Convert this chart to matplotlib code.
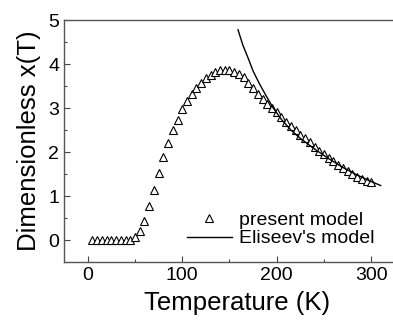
import matplotlib
matplotlib.use('Agg')

import matplotlib.pyplot as plt
from matplotlib.ticker import MultipleLocator

# present model (triangles)
temp_model = [5, 10, 15, 20, 25, 30, 35, 40, 45, 50,
              55, 60, 65, 70, 75, 80, 85, 90, 95, 100,
              105, 110, 115, 120, 125, 130, 135, 140, 145, 150,
              155, 160, 165, 170, 175, 180, 185, 190, 195, 200,
              205, 210, 215, 220, 225, 230, 235, 240, 245, 250,
              255, 260, 265, 270, 275, 280, 285, 290, 295, 300]
x_model = [0.0, 0.0, 0.0, 0.0, 0.0, 0.0, 0.0, 0.0, 0.0, 0.07,
           0.2, 0.43, 0.78, 1.14, 1.53, 1.88, 2.2, 2.5, 2.74, 2.97,
           3.16, 3.32, 3.46, 3.57, 3.69, 3.76, 3.82, 3.86, 3.87, 3.86,
           3.82, 3.77, 3.71, 3.57, 3.46, 3.33, 3.21, 3.1, 3.0, 2.9,
           2.8, 2.69, 2.59, 2.5, 2.4, 2.31, 2.22, 2.12, 2.03, 1.95,
           1.86, 1.79, 1.71, 1.64, 1.56, 1.5, 1.44, 1.39, 1.35, 1.32]

# Eliseev's model (line)
temp_eliseev = [159, 164, 170, 175, 182, 189, 196, 205, 215, 225,
                240, 255, 270, 285, 300, 310]
x_eliseev = [4.78, 4.44, 4.12, 3.84, 3.54, 3.27, 3.01, 2.74, 2.50, 2.31,
             2.07, 1.85, 1.65, 1.48, 1.33, 1.24]


def main():
    plt.rcParams['font.family'] = ['Liberation Sans', 'DejaVu Sans']
    fig = plt.figure(figsize=(3.93, 3.24), dpi=100)
    ax = fig.add_axes([0.163, 0.191, 0.878, 0.747])

    ax.plot(temp_model, x_model, linestyle='none', marker='^', markersize=6,
            markerfacecolor='white', markeredgecolor='black', markeredgewidth=0.8,
            label='present model')
    ax.plot(temp_eliseev, x_eliseev, color='black', linewidth=1.0,
            label="Eliseev's model")

    ax.set_xlim(-25, 340)
    ax.set_ylim(-0.5, 5)
    ax.xaxis.set_major_locator(MultipleLocator(100))
    ax.xaxis.set_minor_locator(MultipleLocator(50))
    ax.yaxis.set_major_locator(MultipleLocator(1))
    ax.yaxis.set_minor_locator(MultipleLocator(0.5))
    ax.tick_params(which='both', direction='in', labelsize=14, color='#444444')
    ax.tick_params(which='major', length=4, width=0.8)
    ax.tick_params(which='minor', length=2.5, width=0.8)
    for s in ax.spines.values():
        s.set_color('#555555')
        s.set_linewidth(1.0)

    ax.set_xlabel('Temperature (K)', fontsize=18.5, labelpad=5)
    ax.set_ylabel('Dimensionless x(T)', fontsize=18.5, labelpad=5)

    ax.legend(loc='upper left', bbox_to_anchor=(0.355, 0.21), frameon=False,
              fontsize=14, handlelength=2.35, handletextpad=0.35,
              labelspacing=0.05, borderpad=0, borderaxespad=0)

    fig.savefig('out.png', dpi=100)


if __name__ == "__main__":
    main()
